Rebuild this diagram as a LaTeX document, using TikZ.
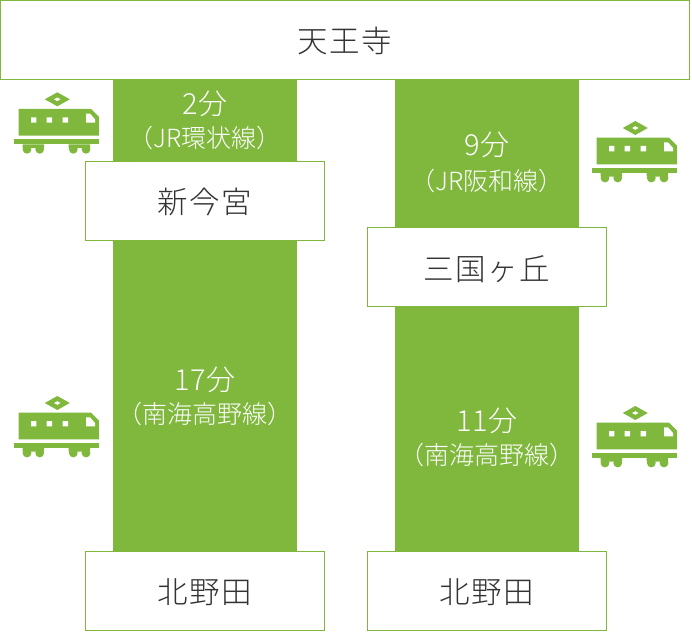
\documentclass[tikz,border=0pt]{standalone}
\usepackage{fontspec}
\setmainfont{Noto Sans CJK JP Light}
\definecolor{grn}{HTML}{7FB83D}
\definecolor{ink}{HTML}{333333}
\tikzset{
  x=1pt,y=-1pt,
  bar/.style={fill=grn,draw=none},
  stationbox/.style={draw=grn,line width=1pt,fill=white,inner sep=0pt,minimum width=239pt,minimum height=79pt},
  stationtext/.style={text=ink,font=\fontsize{30.5}{34}\selectfont,inner sep=0pt},
  timelabel/.style={text=white,font=\fontsize{29}{30}\selectfont,inner sep=0pt},
  linelabel/.style={text=white,font=\fontsize{25}{28}\selectfont,inner sep=0pt},
  pics/train/.style={code={
    \fill[grn] (0,-7)--(12.5,0)--(0,7)--(-12.5,0)--cycle;
    \fill[white] (0,-1.8)--(3.2,0)--(0,1.8)--(-3.2,0)--cycle;
    \fill[grn] (-38.6,9.7)--(33.7,9.7)--(41.7,17.7)--(41.7,36.4)--(-38.6,36.4)--cycle;
    \fill[white] (-26.3,18)rectangle ++(5.4,5.4) (-10.6,18)rectangle ++(5.4,5.4) (5.4,18)rectangle ++(5.4,5.4);
    \fill[white] (28.7,14.3)--(32.7,14.3)--(37.7,20)--(37.7,23.4)--(28.7,23.4)--cycle;
    \fill[grn] (-43.3,39.7) rectangle (41.7,45);
    \fill[grn] (-34.6,45) rectangle (-13.3,48.6) (11.3,45) rectangle (32.7,48.6);
    \fill[grn] (-30.3,50) circle (4.4) (-17.6,50) circle (4.4) (16,50) circle (4.4) (28.7,50) circle (4.4);
  }}
}
\newcommand{\boxtext}[1]{\addfontfeatures{LetterSpace=5}#1}
\begin{document}
\begin{tikzpicture}
\useasboundingbox (0,0) rectangle (692,631);
\fill[white] (0,0) rectangle (692,631);
\fill[bar] (113,78) rectangle (297,553);
\fill[bar] (395,78) rectangle (579,553);
\node[stationbox,minimum width=689pt] (tennoji) at (345,40) {};
\node[stationbox] (imamiya) at (205,201) {};
\node[stationbox] (mikunigaoka) at (487,266.8) {};
\node[stationbox] (kitanoda1) at (205,590.8) {};
\node[stationbox] (kitanoda2) at (487,590.8) {};
\node[stationtext] (s0) at (345,40.5) {\boxtext{天王寺}};
\node[stationtext] (s1) at (205,201.5) {\boxtext{新今宮}};
\node[stationtext] (s2) at (487,269) {\boxtext{三国ヶ丘}};
\node[stationtext] (s3) at (205,592.3) {\boxtext{北野田}};
\node[stationtext] (s4) at (487,592.3) {\boxtext{北野田}};
\node[timelabel] (t1) at (205,104) {2分};
\node[linelabel] (l1) at (205,138) {（JR環状線）};
\node[timelabel] (t2) at (205,380) {17分};
\node[linelabel] (l2) at (205,414) {（南海高野線）};
\node[timelabel] (t3) at (487,145) {9分};
\node[linelabel] (l3) at (487,180.5) {（JR阪和線）};
\node[timelabel] (t4) at (487,421) {11分};
\node[linelabel] (l4) at (487,455) {（南海高野線）};
\pic at (57.3,99.3) {train};
\pic at (635.3,128) {train};
\pic at (57.3,403) {train};
\pic at (635.3,413) {train};
\end{tikzpicture}
\end{document}
